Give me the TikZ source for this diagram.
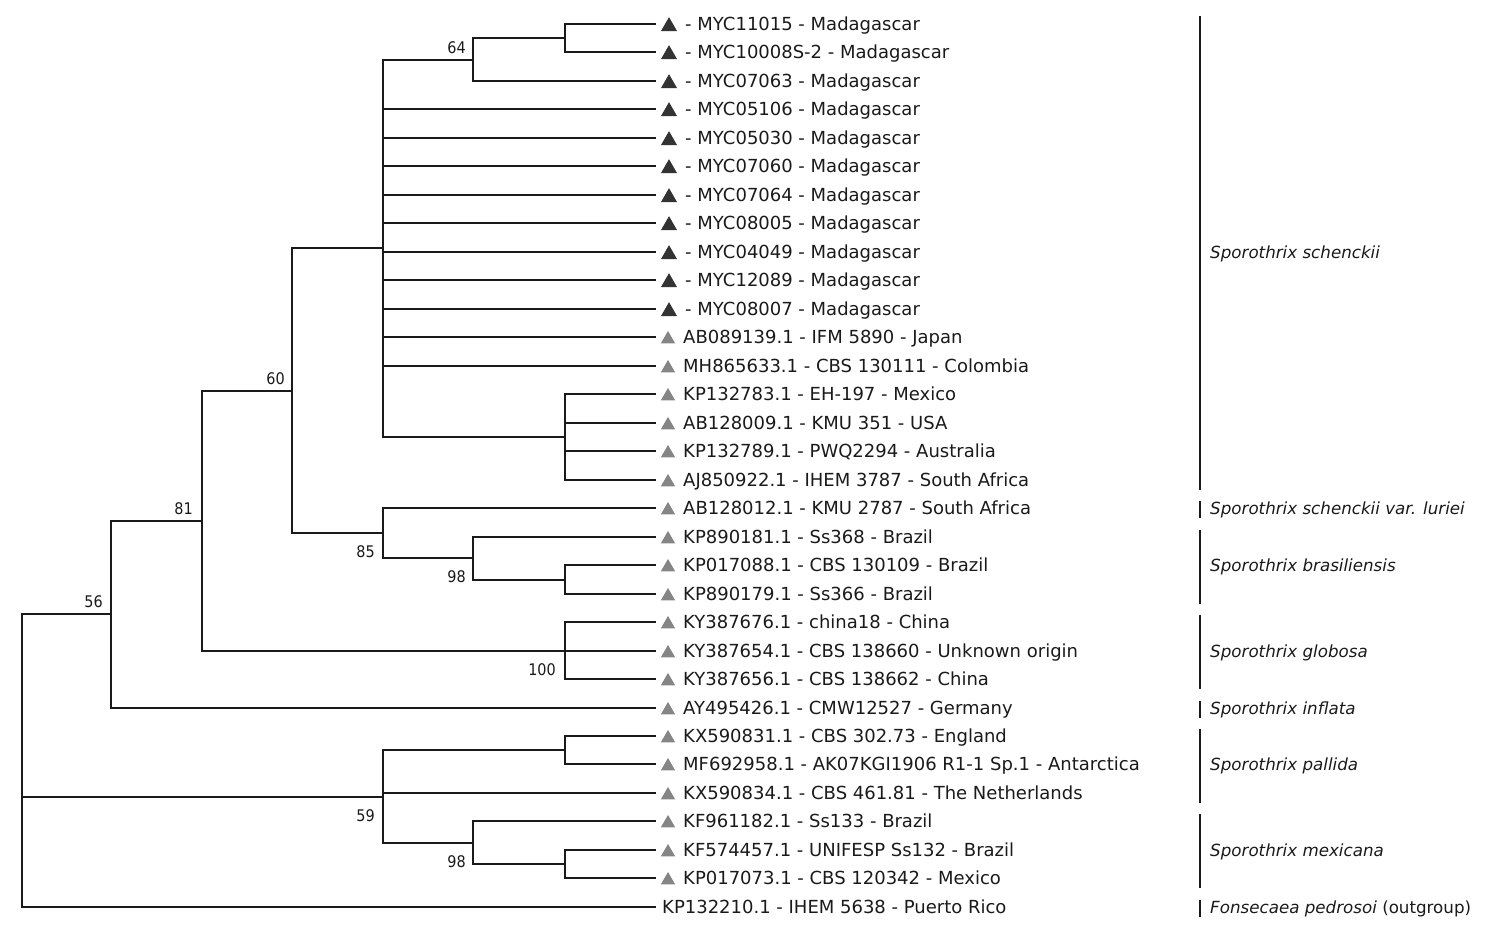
\documentclass[tikz,border=0pt]{standalone}
\usepackage{fontspec}
\setmainfont{DejaVu Sans}
\newfontfamily\bsfont{DejaVu Sans Condensed}
\usetikzlibrary{shapes.geometric,calc}
\definecolor{darktri}{HTML}{333333}
\definecolor{graytri}{HTML}{858585}
\definecolor{ink}{HTML}{1A1A1A}
\tikzset{
  branch/.style={line width=1.8pt, draw=ink, line cap=rect},
  bar/.style={line width=1.9pt, draw=ink},
  tridark/.style={regular polygon, regular polygon sides=3, fill=darktri, minimum size=18.5pt, inner sep=0pt},
  trigray/.style={regular polygon, regular polygon sides=3, fill=graytri, minimum size=16.5pt, inner sep=0pt},
  leaftext/.style={anchor=base west, inner sep=0pt, text=ink, font=\fontsize{18}{20}\selectfont},
  species/.style={anchor=base west, inner sep=0pt, text=ink, font=\fontsize{16.7}{19}\selectfont\itshape},
  bsabove/.style={anchor=base east, inner sep=0pt, text=ink, font=\bsfont\fontsize{16}{18}\selectfont},
}
\begin{document}
\begin{tikzpicture}[x=1pt,y=-1pt]
\useasboundingbox (0,0) rectangle (1500,934);
% leaf end points
\foreach \i in {0,...,31}{
  \coordinate (L\i) at (655,{round(24+28.48*\i)});
}
% internal nodes
\coordinate (Na)   at (565,38);
\coordinate (N64)  at (473,60);
\coordinate (Nsub) at (565,437);
\coordinate (Ns)   at (383,248);
\coordinate (Nb)   at (565,580);
\coordinate (N98a) at (473,558);
\coordinate (N85)  at (383,533);
\coordinate (N60)  at (292,391);
\coordinate (N100) at (565,651);
\coordinate (N81)  at (202,521);
\coordinate (N56)  at (111,614);
\coordinate (Nc)   at (565,750);
\coordinate (Nd)   at (565,864);
\coordinate (N98b) at (473,843);
\coordinate (N59)  at (383,797);
\coordinate (R)    at (22,760);
% edges
\foreach \p/\c in {Na/L0,Na/L1,N64/Na,N64/L2,
  Ns/N64,Ns/L3,Ns/L4,Ns/L5,Ns/L6,Ns/L7,Ns/L8,Ns/L9,Ns/L10,Ns/L11,Ns/L12,Ns/Nsub,
  Nsub/L13,Nsub/L14,Nsub/L15,Nsub/L16,
  Nb/L19,Nb/L20,N98a/L18,N98a/Nb,N85/L17,N85/N98a,
  N60/Ns,N60/N85,
  N100/L21,N100/L22,N100/L23,
  N81/N60,N81/N100,N56/N81,N56/L24,
  Nc/L25,Nc/L26,Nd/L29,Nd/L30,N98b/L28,N98b/Nd,
  N59/Nc,N59/L27,N59/N98b,
  R/N56,R/N59,R/L31}{
  \draw[branch] (\p) |- (\c);
}
% bootstrap values
\node[bsabove] (b64) at ($(N64)+(-7,-6)$) {64};
\node[bsabove] (b60) at ($(N60)+(-7,-7)$) {60};
\node[bsabove] (b81) at ($(N81)+(-9,-7)$) {81};
\node[bsabove] (b56) at ($(N56)+(-8,-7)$) {56};
\node[bsabove] (b85) at ($(N85)+(-8,24)$) {85};
\node[bsabove] (b98a) at ($(N98a)+(-7,24)$) {98};
\node[bsabove] (b100) at ($(N100)+(-9,24)$) {100};
\node[bsabove] (b59) at ($(N59)+(-8,24)$) {59};
\node[bsabove] (b98b) at ($(N98b)+(-7,24)$) {98};
% leaves with dark triangles
\foreach \i/\t in {0/MYC11015,1/MYC10008S-2,2/MYC07063,3/MYC05106,4/MYC05030,5/MYC07060,6/MYC07064,7/MYC08005,8/MYC04049,9/MYC12089,10/MYC08007}{
  \node[tridark] (T\i) at ($(L\i)+(14,2.4)$) {};
  \node[leaftext] (X\i) at ($(L\i)+(30,6.5)$) {- \t{} - Madagascar};
}
% leaves with gray triangles
\foreach \i/\t in {11/AB089139.1 - IFM 5890 - Japan,
  12/MH865633.1 - CBS 130111 - Colombia,
  13/KP132783.1 - EH-197 - Mexico,
  14/AB128009.1 - KMU 351 - USA,
  15/KP132789.1 - PWQ2294 - Australia,
  16/AJ850922.1 - IHEM 3787 - South Africa,
  17/AB128012.1 - KMU 2787 - South Africa,
  18/KP890181.1 - Ss368 - Brazil,
  19/KP017088.1 - CBS 130109 - Brazil,
  20/KP890179.1 - Ss366 - Brazil,
  21/KY387676.1 - china18 - China,
  22/KY387654.1 - CBS 138660 - Unknown origin,
  23/KY387656.1 - CBS 138662 - China,
  24/AY495426.1 - CMW12527 - Germany,
  25/KX590831.1 - CBS 302.73 - England,
  26/MF692958.1 - AK07KGI1906 R1-1 Sp.1 - Antarctica,
  27/KX590834.1 - CBS 461.81 - The Netherlands,
  28/KF961182.1 - Ss133 - Brazil,
  29/KF574457.1 - UNIFESP Ss132 - Brazil,
  30/KP017073.1 - CBS 120342 - Mexico}{
  \node[trigray] (T\i) at ($(L\i)+(13,2.2)$) {};
  \node[leaftext] (X\i) at ($(L\i)+(28,6.5)$) {\t};
}
\node[leaftext] (X31) at ($(L31)+(7,6.5)$) {KP132210.1 - IHEM 5638 - Puerto Rico};
% clade bars and names
\foreach \a/\b/\ym/\name in {0/16/252/Sporothrix schenckii,
  17/17/508/Sporothrix schenckii var. luriei,
  18/20/565/Sporothrix brasiliensis,
  21/23/651/Sporothrix globosa,
  24/24/708/Sporothrix inflata,
  25/27/764/Sporothrix pallida,
  28/30/850/Sporothrix mexicana}{
  \draw[bar] ($(1200,0)!(L\a)!(1200,100)+(0,-7.5)$) -- ($(1200,0)!(L\b)!(1200,100)+(0,9.5)$);
  \node[species] at (1210,\ym+6.2) {\name};
}
\draw[bar] ($(1200,0)!(L31)!(1200,100)+(0,-7.5)$) -- ($(1200,0)!(L31)!(1200,100)+(0,9.5)$);
\node[species] (sp31) at (1210,907+6.2) {Fonsecaea pedrosoi \upshape(outgroup)};
\end{tikzpicture}
\end{document}
